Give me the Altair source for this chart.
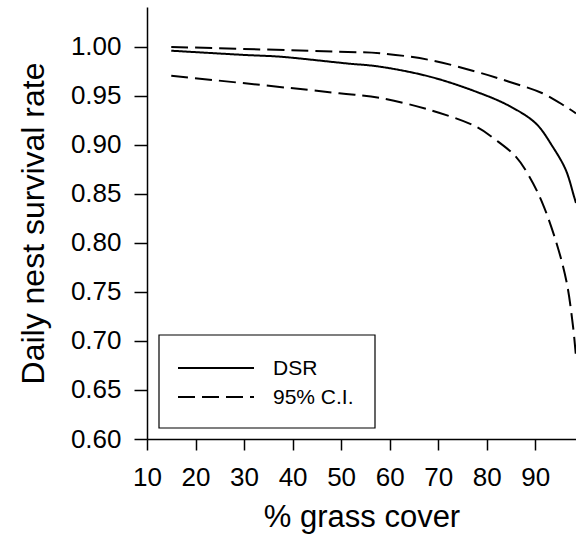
import altair as alt
import pandas as pd

# DSR curve
dsr_x = [15.0, 30.4, 37.4, 51.0, 58.0, 68.3, 77.8, 84.6, 90.1, 93.6, 96.3, 98.0, 98.4]
dsr_y = [0.9962, 0.9918, 0.9901, 0.9833, 0.9799, 0.9697, 0.9544, 0.9400, 0.9221, 0.8982, 0.8745, 0.8473, 0.8408]

# upper 95% CI
up_x = [15.0, 49.6, 58.0, 68.3, 77.8, 84.6, 91.5, 96.3, 98.4]
up_y = [1.0000, 0.9952, 0.9936, 0.9867, 0.9748, 0.9646, 0.9528, 0.9391, 0.9323]

# lower 95% CI
lo_x = [15.0, 49.6, 58.0, 68.3, 77.8, 81.9, 86.0, 88.8, 91.5, 94.5, 96.5, 97.8, 98.4]
lo_y = [0.9707, 0.9528, 0.9480, 0.9357, 0.9187, 0.9051, 0.8881, 0.8677, 0.8405, 0.7980, 0.7592, 0.7143, 0.6837]

x_ticks = [10, 20, 30, 40, 50, 60, 70, 80, 90]
y_ticks = [0.60, 0.65, 0.70, 0.75, 0.80, 0.85, 0.90, 0.95, 1.00]
series_names = ["DSR", "95% C.I."]

rows = []
for x, y in zip(dsr_x, dsr_y):
    rows.append({"x": x, "y": y, "kind": "DSR", "line": "dsr"})
for x, y in zip(up_x, up_y):
    rows.append({"x": x, "y": y, "kind": "95% C.I.", "line": "upper"})
for x, y in zip(lo_x, lo_y):
    rows.append({"x": x, "y": y, "kind": "95% C.I.", "line": "lower"})
df = pd.DataFrame(rows)

FONT = "Liberation Sans"
DASH = [17, 7]

lines = alt.Chart(df).mark_line(
    color="black", strokeWidth=2, interpolate="catmull-rom", clip=True
).encode(
    x=alt.X("x:Q", scale=alt.Scale(domain=[10, 98.4], nice=False, zero=False),
            axis=alt.Axis(values=x_ticks, title="% grass cover", format="d",
                          tickSize=11, labelPadding=14, labelFlush=False, titleY=87,
                          titleBaseline="alphabetic", titleFontSize=31)),
    y=alt.Y("y:Q", scale=alt.Scale(domain=[0.6, 1.0408], nice=False, zero=False),
            axis=alt.Axis(values=y_ticks, title="Daily nest survival rate", format=".2f",
                          tickSize=13, labelPadding=13, labelFlush=False, titleX=-104, titleY=216,
                          titleAngle=-90, titleBaseline="alphabetic", titleAlign="center",
                          titleFontSize=32)),
    strokeDash=alt.StrokeDash("kind:N",
                              scale=alt.Scale(domain=series_names, range=[[1, 0], DASH]),
                              legend=None),
    detail="line:N",
)

# legend (drawn manually inside the plot)
leg_df = pd.DataFrame({"name": series_names})

box = alt.Chart(leg_df.head(1)).mark_rect(
    fill="white", stroke="black", strokeWidth=1.2
).encode(x=alt.value(12), x2=alt.value(228), y=alt.value(328), y2=alt.value(421))

leg_parts = []
for i, name in enumerate(series_names):
    yy = 361 + i * 29
    sub = leg_df[leg_df["name"] == name]
    dash = [1, 0] if i == 0 else DASH
    leg_parts.append(
        alt.Chart(sub).mark_rule(color="black", strokeWidth=2, strokeDash=dash)
        .encode(x=alt.value(31), x2=alt.value(107), y=alt.value(yy))
    )
    leg_parts.append(
        alt.Chart(sub).mark_text(align="left", baseline="middle", font=FONT,
                                 fontSize=21, color="black")
        .encode(x=alt.value(126), y=alt.value(yy + 1), text="name:N")
    )

chart = alt.layer(lines, box, *leg_parts).properties(
    width=429, height=432,
    autosize=alt.AutoSizeParams(type="none"),
    padding={"left": 147, "top": 7, "right": 0, "bottom": 100},
).configure_view(stroke=None).configure_axis(
    grid=False, domainColor="black", domainWidth=1.5, tickColor="black", tickWidth=1.5,
    labelFont=FONT, titleFont=FONT, labelFontSize=26, labelColor="black", titleColor="black",
    titleFontWeight="normal"
)

chart.save("out.html", embed_options={"renderer": "svg", "actions": False})
